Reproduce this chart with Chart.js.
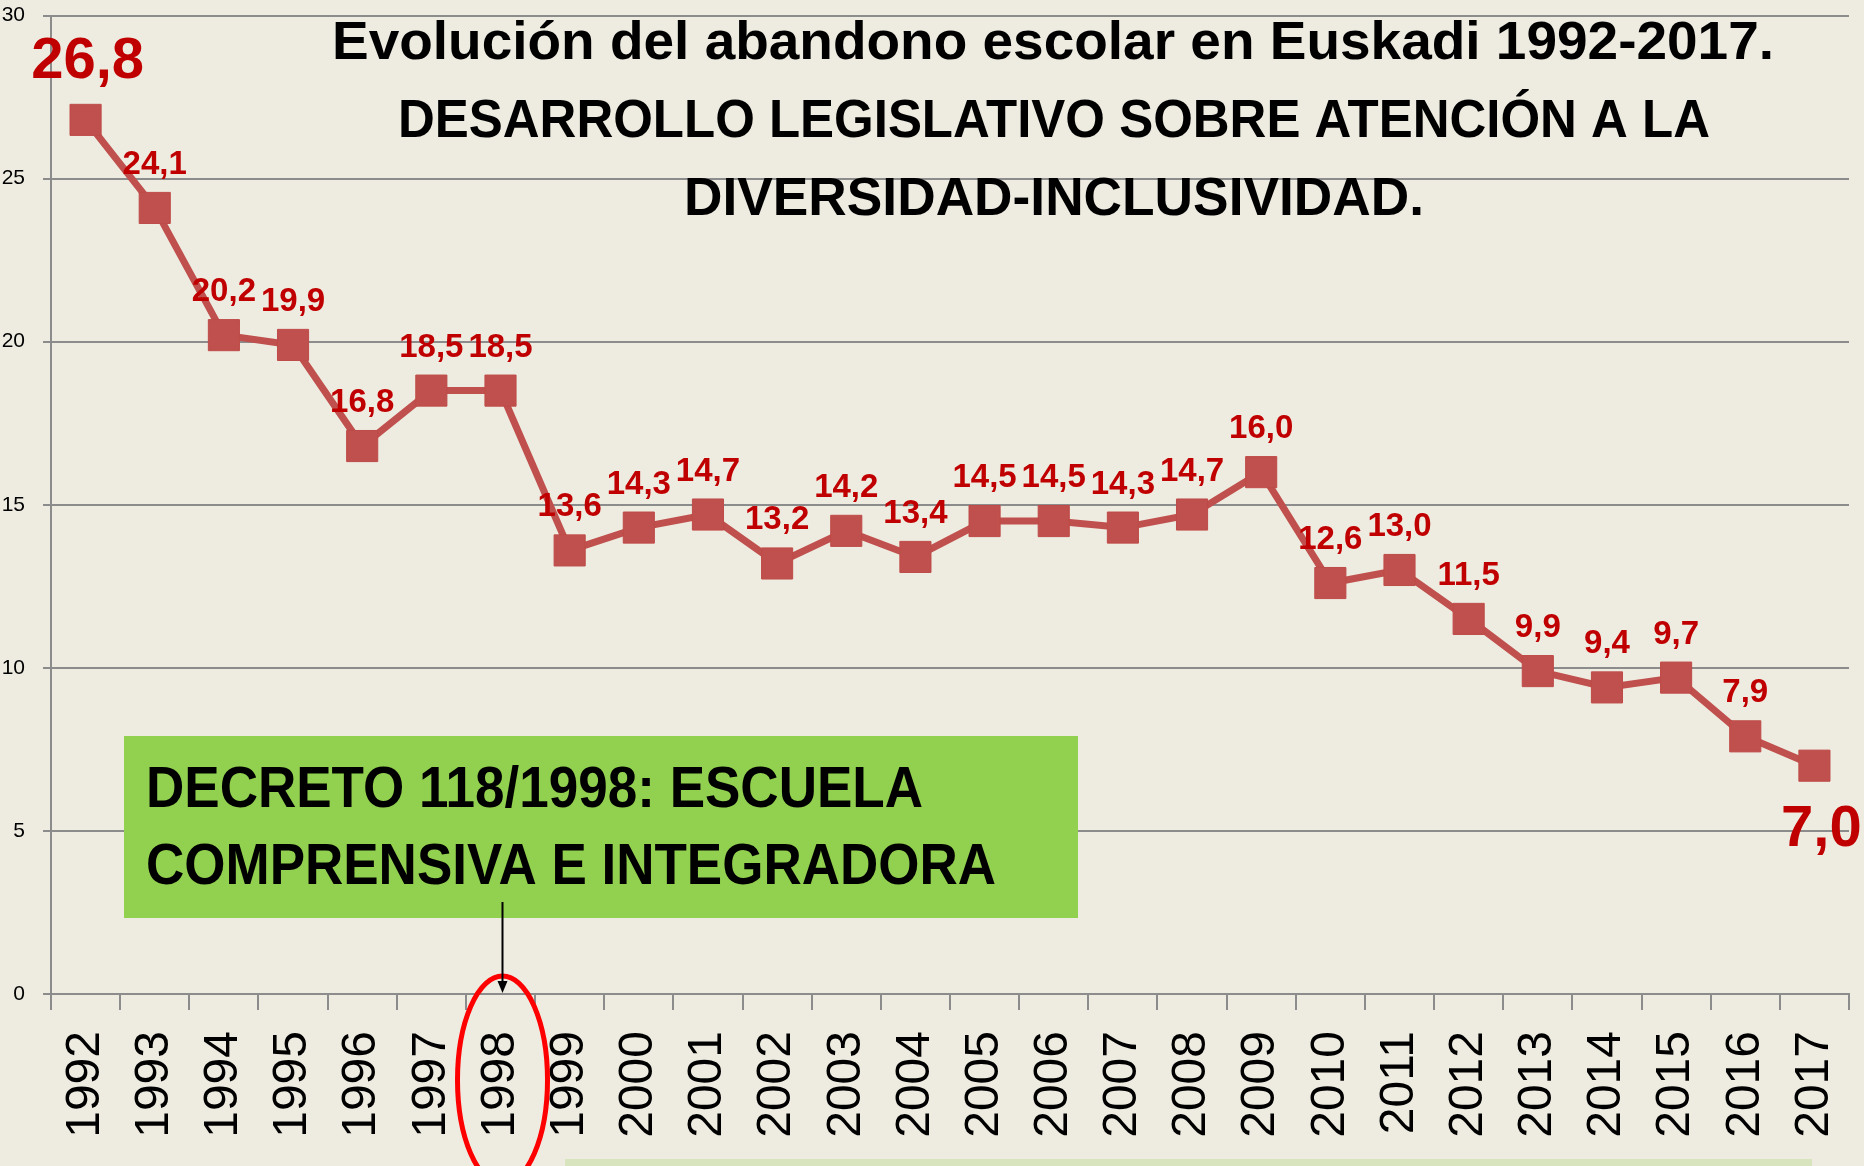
<!DOCTYPE html>
<html><head><meta charset="utf-8">
<script src="https://cdn.jsdelivr.net/npm/chart.js@4/dist/chart.umd.min.js"></script>
<style>html,body{margin:0;padding:0;background:#EEECE1;overflow:hidden}</style>
</head><body>
<canvas id="c" width="1864" height="1166" style="display:block;width:1864px;height:1166px"></canvas>
<script>
const years = ['1992','1993','1994','1995','1996','1997','1998','1999','2000','2001','2002','2003','2004','2005','2006','2007','2008','2009','2010','2011','2012','2013','2014','2015','2016','2017'];
const abandono = [26.8,24.1,20.2,19.9,16.8,18.5,18.5,13.6,14.3,14.7,13.2,14.2,13.4,14.5,14.5,14.3,14.7,16.0,12.6,13.0,11.5,9.9,9.4,9.7,7.9,7.0];
const yMin = 0, yMax = 30, yStep = 5;
const titleLines = ['Evolución del abandono escolar en Euskadi 1992-2017.','DESARROLLO LEGISLATIVO SOBRE ATENCIÓN A LA','DIVERSIDAD-INCLUSIVIDAD.'];
const decreeLines = ['DECRETO 118/1998: ESCUELA','COMPRENSIVA E INTEGRADORA'];
const decreeYear = '1998';

const BG = '#EEECE1', GRID = '#8C8C8C', LINE = '#C0504D', LABEL = '#C00000';
const SANS = '"Liberation Sans", Arial, sans-serif';

const fmt = v => v.toFixed(1).replace('.', ',');

// draw text stretched/compressed horizontally to a given width, starting at left x
function fitText(ctx, text, left, baseline, width) {
  const w = ctx.measureText(text).width;
  ctx.save();
  ctx.translate(left, baseline);
  ctx.scale(width / w, 1);
  ctx.textAlign = 'left';
  ctx.fillText(text, 0, 0);
  ctx.restore();
}

const bgPlugin = {
  id: 'bg',
  beforeDraw(chart) {
    const ctx = chart.ctx;
    ctx.save();
    ctx.fillStyle = BG;
    ctx.fillRect(0, 0, chart.width, chart.height);
    ctx.restore();
  }
};

const labelPlugin = {
  id: 'valueLabels',
  afterDatasetsDraw(chart) {
    const ctx = chart.ctx;
    const pts = chart.getDatasetMeta(0).data;
    ctx.save();
    ctx.fillStyle = LABEL;
    ctx.textAlign = 'center';
    ctx.textBaseline = 'alphabetic';
    pts.forEach((p, i) => {
      const t = fmt(abandono[i]);
      if (i === 0) {
        ctx.font = 'bold 58px ' + SANS;
        ctx.fillText(t, p.x + 2, p.y - 42);
      } else if (i === pts.length - 1) {
        ctx.font = 'bold 58px ' + SANS;
        ctx.fillText(t, p.x + 7, p.y + 80);
      } else {
        ctx.font = 'bold 33px ' + SANS;
        ctx.fillText(t, p.x, p.y - 34);
      }
    });
    ctx.restore();
  }
};

const annotPlugin = {
  id: 'annot',
  afterDraw(chart) {
    const ctx = chart.ctx;
    ctx.save();
    // title
    ctx.fillStyle = '#000';
    ctx.textBaseline = 'alphabetic';
    ctx.font = 'bold 53px ' + SANS;
    const tl = [332, 398, 684];
    const tw = [1442, 1312, 740];
    const tb = [59, 137, 215];
    titleLines.forEach((l, i) => fitText(ctx, l, tl[i], tb[i], tw[i]));

    // green box
    ctx.fillStyle = '#92D050';
    ctx.fillRect(124, 736, 954, 182);
    ctx.fillStyle = '#000';
    ctx.font = 'bold 57px ' + SANS;
    fitText(ctx, decreeLines[0], 146, 807, 777);
    fitText(ctx, decreeLines[1], 146, 884, 850);

    // light green strip at bottom
    ctx.fillStyle = '#D7E4BD';
    ctx.fillRect(565, 1159, 1247, 10);

    // ellipse around 1998 label
    const xs = chart.scales.x;
    const idx = years.indexOf(decreeYear);
    const ex = xs.getPixelForValue(idx) + 2;
    ctx.strokeStyle = '#FF0000';
    ctx.lineWidth = 5;
    ctx.beginPath();
    ctx.ellipse(ex, 1080, 45, 104, 0, 0, Math.PI * 2);
    ctx.stroke();

    // arrow
    const bottom = chart.chartArea.bottom;
    ctx.strokeStyle = '#000';
    ctx.lineWidth = 2;
    ctx.beginPath();
    ctx.moveTo(ex, 902);
    ctx.lineTo(ex, bottom - 10);
    ctx.stroke();
    ctx.fillStyle = '#000';
    ctx.beginPath();
    ctx.moveTo(ex - 5, bottom - 13);
    ctx.lineTo(ex + 5, bottom - 13);
    ctx.lineTo(ex, bottom - 1);
    ctx.closePath();
    ctx.fill();
    ctx.restore();
  }
};

new Chart(document.getElementById('c'), {
  type: 'line',
  data: {
    labels: years,
    datasets: [{
      data: abandono,
      borderColor: LINE,
      backgroundColor: LINE,
      borderWidth: 7,
      pointStyle: 'rect',
      pointRadius: 22,
      pointBackgroundColor: LINE,
      pointBorderColor: '#BE4B48',
      pointBorderWidth: 1,
      tension: 0,
      fill: false,
      clip: false
    }]
  },
  options: {
    responsive: false,
    animation: false,
    devicePixelRatio: 1,
    events: [],
    layout: { autoPadding: false, padding: { top: 15.5, right: 15, left: 0, bottom: 0 } },
    plugins: { legend: { display: false }, tooltip: { enabled: false }, title: { display: false } },
    scales: {
      x: {
        type: 'category',
        offset: true,
        grid: { display: true, drawOnChartArea: false, drawTicks: true, tickLength: 16, color: GRID, lineWidth: 2, offset: true },
        border: { display: true, color: GRID, width: 2 },
        ticks: { autoSkip: false, minRotation: 90, maxRotation: 90, padding: 21, color: '#000', font: { family: SANS, size: 48, lineHeight: 0.4 } },
        afterFit(s) { s.height = 172; s.paddingLeft = 0; s.paddingRight = 0; }
      },
      y: {
        min: yMin, max: yMax,
        grid: { color: GRID, lineWidth: 2, drawTicks: true, tickLength: 8 },
        border: { display: true, color: GRID, width: 2 },
        ticks: { stepSize: yStep, padding: 18, color: '#000', font: { family: SANS, size: 21, lineHeight: 0.4 } },
        afterFit(s) { s.width = 51; s.paddingTop = 0; s.paddingBottom = 0; }
      }
    }
  },
  plugins: [bgPlugin, labelPlugin, annotPlugin]
});
</script>
</body></html>
